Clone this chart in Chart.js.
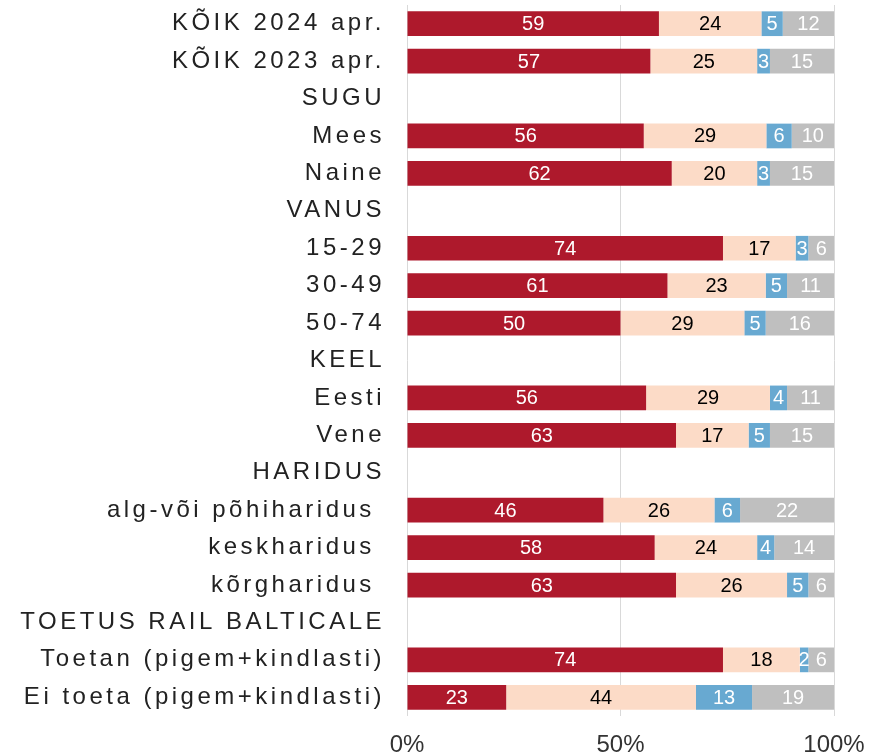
<!DOCTYPE html>
<html>
<head>
<meta charset="utf-8">
<script src="https://cdn.jsdelivr.net/npm/chart.js@4.4.1/dist/chart.umd.min.js"></script>
<style>
  html, body { margin: 0; padding: 0; background: #fff; }
  #wrap { width: 871px; height: 756px; }
</style>
</head>
<body>
<div id="wrap"><canvas id="chart"></canvas></div>
<script>
const categories = [
    'KÕIK 2024 apr.', 'KÕIK 2023 apr.', 'SUGU', 'Mees', 'Naine',
    'VANUS', '15-29', '30-49', '50-74', 'KEEL', 'Eesti', 'Vene',
    'HARIDUS', 'alg-või põhiharidus ', 'keskharidus ', 'kõrgharidus ',
    'TOETUS RAIL BALTICALE', 'Toetan (pigem+kindlasti)', 'Ei toeta (pigem+kindlasti)'
];
const series1 = [59, 57, null, 56, 62, null, 74, 61, 50, null, 56, 63, null, 46, 58, 63, null, 74, 23];
const series2 = [24, 25, null, 29, 20, null, 17, 23, 29, null, 29, 17, null, 26, 24, 26, null, 18, 44];
const series3 = [5, 3, null, 6, 3, null, 3, 5, 5, null, 4, 5, null, 6, 4, 5, null, 2, 13];
const series4 = [12, 15, null, 10, 15, null, 6, 11, 16, null, 11, 15, null, 22, 14, 6, null, 6, 19];
const xTicks = [0, 50, 100];

const raw = [series1, series2, series3, series4];
const colors = ['#AE192C', '#FCDBC7', '#68A9D1', '#BFBFBF'];
const labelColors = ['#FFFFFF', '#000000', '#FFFFFF', '#FFFFFF'];

//Normalize each row to 100%
const totals = categories.map((c, i) => raw.reduce((s, arr) => s + (arr[i] || 0), 0));
const datasets = raw.map((arr, k) => ({
    label: 'S' + (k + 1),
    data: arr.map((v, i) => v === null ? null : v / totals[i] * 100),
    raw: arr,
    backgroundColor: colors[k],
    borderWidth: 0,
    categoryPercentage: 1,
    barPercentage: 0.66
}));

const valueLabels = {
    id: 'valueLabels',
    afterDatasetsDraw(chart) {
        const ctx = chart.ctx;
        ctx.save();
        ctx.font = '20px "Liberation Sans", Arial, sans-serif';
        ctx.textAlign = 'center';
        ctx.textBaseline = 'middle';
        chart.data.datasets.forEach((ds, k) => {
            chart.getDatasetMeta(k).data.forEach((el, i) => {
                const v = ds.raw[i];
                if (v === null) return;
                ctx.fillStyle = labelColors[k];
                ctx.fillText(String(v), (el.x + el.base) / 2, el.y + 1);
            });
        });
        ctx.restore();
    }
};

const spacedLabels = {
    id: 'spacedLabels',
    beforeDraw(chart) {
        const s = chart.scales.y;
        if (!s._spaced) {
            const orig = s.drawLabels.bind(s);
            s.drawLabels = function (area) {
                chart.ctx.save();
                chart.ctx.letterSpacing = '3.5px';
                orig(area);
                chart.ctx.restore();
            };
            s._spaced = true;
        }
    }
};

new Chart(document.getElementById('chart').getContext('2d'), {
    type: 'bar',
    data: { labels: categories, datasets: datasets },
    options: {
        indexAxis: 'y',
        responsive: true,
        maintainAspectRatio: false,
        animation: false,
        layout: { padding: { top: 5, right: 37, left: 0, bottom: 0 } },
        plugins: { legend: { display: false }, tooltip: { enabled: false } },
        scales: {
            x: {
                stacked: true,
                min: 0,
                max: 100,
                afterBuildTicks: (scale) => { scale.ticks = xTicks.map(v => ({ value: v })); },
                afterFit: (scale) => {
                    scale.height = 40;
                    scale.paddingLeft = 0;
                    scale.paddingRight = 0;
                },
                ticks: {
                    callback: v => v + '%',
                    color: '#333333',
                    font: { family: '"Liberation Sans", Arial, sans-serif', size: 24 },
                    padding: 15,
                    maxRotation: 0
                },
                grid: { color: '#D9D9D9', lineWidth: 1, drawTicks: false },
                border: { display: false }
            },
            y: {
                stacked: true,
                afterFit: (scale) => {
                    scale.width = 407;
                    scale.paddingTop = 0;
                    scale.paddingBottom = 0;
                },
                ticks: {
                    color: '#222222',
                    font: { family: '"Liberation Sans", Arial, sans-serif', size: 24 },
                    padding: 22,
                    autoSkip: false
                },
                grid: { display: false, drawTicks: false },
                border: { display: false }
            }
        }
    },
    plugins: [valueLabels, spacedLabels]
});
</script>
</body>
</html>
